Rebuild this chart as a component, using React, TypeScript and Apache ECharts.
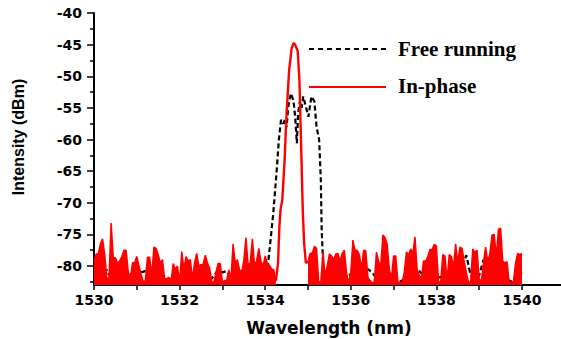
import React, { useEffect, useRef } from "react";
import * as echarts from "echarts";

// ---- data ----
const redLeftStart = 1530.0;
const redStep = 0.05;
const redLeft = [
  -79.3, -78.1, -78.1, -76.5, -75.7, -78.2, -81.9, -82, -73.2, -78.7,
  -78.7, -79.5, -79.2, -78.5, -77.5, -77.5, -80.9, -82, -79.5, -79.5,
  -78.5, -80, -81.3, -82.5, -82.3, -78.6, -78.6, -81.5, -77, -77.2,
  -78.2, -79.5, -79, -82, -82, -81.8, -82.5, -79.6, -80.5, -80,
  -82.7, -77.7, -80.5, -78.5, -79.2, -79, -82, -79.5, -78, -80,
  -79.8, -79.8, -78.3, -79.5, -80.3, -82.5, -82.6, -81, -79.6, -79.6,
  -82.5, -82.3, -82.3, -80.6, -82, -76.5, -79.5, -79, -80.6, -81,
  -79.2, -75.5, -79.8, -79.5, -75.7, -79.8, -79.2, -77.2, -79.2, -80,
  -78.4, -79.6, -79.9, -80.5, -80.6, -82.3,
];
const redPeakWl = [
  1534.25, 1534.3, 1534.33, 1534.36, 1534.4, 1534.45, 1534.5, 1534.56, 1534.62,
  1534.67, 1534.71, 1534.76, 1534.8, 1534.84, 1534.88, 1534.91, 1534.95, 1535.0,
];
const redPeakDb = [
  -82.3, -79.5, -74, -71, -69.5, -63.7, -55.8, -49, -45.5,
  -44.7, -45.2, -46, -50.6, -61.1, -71.6, -76.4, -79.5, -79.3,
];
const redRightStart = 1535.0;
const redRight = [
  -79.3, -78, -78, -76.9, -77.2, -82.5, -82.5, -77.8, -81.5, -80,
  -78.1, -78.4, -79, -78.1, -78, -79.3, -78, -77.5, -81, -82.7,
  -81, -75.9, -77.6, -77.5, -78.2, -80.5, -77.5, -77.6, -81.8, -82.3,
  -82.7, -82.5, -77.8, -79.3, -80, -75.1, -75.5, -76.6, -80.5, -82,
  -78.4, -78.4, -82.5, -82.7, -82.6, -81, -77.8, -78.2, -77.3, -78,
  -75.4, -80.5, -81.5, -82, -79.2, -79.2, -78.5, -77.4, -77.4, -76.6,
  -76.8, -82.5, -82.6, -78.2, -78.4, -82.4, -78.2, -78.5, -80.2, -76.5,
  -79.5, -77, -77.2, -79.3, -81, -82.6, -82.5, -77.3, -77.8, -77.5,
  -82, -82.5, -79.5, -77, -79.3, -78, -75.1, -75, -78.5, -74.2,
  -74, -79.2, -79.5, -79.3, -82.5, -82.6, -82.5, -79.5, -78, -78.2,
  -78,
];

const blackStep = 0.1;
const blackLeftStart = 1530.0;
const blackLeft = [
  -82, -81.5, -82, -80.6, -82, -81.5, -82, -81, -80.8, -81.5,
  -82, -81, -80.8, -81.5, -82.3, -82, -81.5, -82.5, -82, -81.7,
  -82.5, -81.2, -82, -81.5, -82.3, -81.8, -82, -82.5, -81.5, -80.7,
  -81, -80.8, -82, -80.6, -81.5, -81.8, -81, -82, -81.5, -80.5,
  -80.8,
];
const blackPeakWl = [
  1534.07, 1534.19, 1534.27, 1534.32, 1534.37, 1534.42, 1534.46, 1534.5, 1534.54,
  1534.6, 1534.66, 1534.7, 1534.74, 1534.77, 1534.81, 1534.85, 1534.89, 1534.95,
  1535.01, 1535.08, 1535.15, 1535.2, 1535.26, 1535.3, 1535.32, 1535.36,
];
const blackPeakDb = [
  -79.5, -71.6, -64.8, -60, -56.9, -57.5, -56.9, -58, -54.8,
  -52.7, -53.8, -56.4, -60.6, -55.8, -54, -55, -53.2, -54.8,
  -56.4, -53.2, -54, -58, -60, -66.4, -74.3, -80.6,
];
const blackRightStart = 1535.4;
const blackRight = [
  -80.6, -82, -81.5, -82.2, -81, -82, -81.2, -82, -81.5, -82.3,
  -80.5, -81, -82, -81.5, -82.5, -82, -81.5, -82.6, -82.3, -81.8,
  -82, -81.5, -80.8, -81.5, -82, -81.6, -82, -81.7, -82.2, -80.5,
  -81.5, -81, -80, -78.3, -81.5, -82, -81.5, -79, -81.5, -82,
  -80.8, -81.5, -82, -82.3, -82.6, -81.5, -81,
];

const xLabelValues = [1530, 1532, 1534, 1536, 1538, 1540];
const xTickValues = [1530, 1531, 1532, 1533, 1534, 1535, 1536, 1537, 1538, 1539, 1540];
const yMajorValues = [-80, -75, -70, -65, -60, -55, -50, -45, -40];
const yMinorValues = [-82.5, -77.5, -72.5, -67.5, -62.5, -57.5, -52.5, -47.5, -42.5];

const legendNames = ["Free running", "In-phase"];
const xTitle = "Wavelength (nm)";
const yTitle = "Intensity (dBm)";

function stepped(start: number, step: number, vals: number[]): number[][] {
  return vals.map((v, i) => [Number((start + i * step).toFixed(3)), v]);
}
function paired(xs: number[], ys: number[]): number[][] {
  return xs.map((x, i) => [x, ys[i]]);
}

export default function App() {
  const ref = useRef<HTMLDivElement>(null);
  useEffect(() => {
    if (!ref.current) return;
    const chart = echarts.init(ref.current, undefined, { renderer: "svg" });
    const black = [
      ...stepped(blackLeftStart, blackStep, blackLeft),
      ...paired(blackPeakWl, blackPeakDb),
      ...stepped(blackRightStart, blackStep, blackRight),
    ];
    const tickFont = {
      fontFamily: "DejaVu Sans",
      fontWeight: "bold" as const,
      fontSize: 14,
      color: "#000",
      formatter: (v: number) => String(v),
    };
    const option: any = {
      animation: false,
      backgroundColor: "#fff",
      grid: { left: 94, right: 0.5, top: 13, bottom: 54, containLabel: false },
      xAxis: {
        type: "value",
        min: 1530,
        max: 1540.9,
        axisLine: { show: true, onZero: false, lineStyle: { color: "#000", width: 2 } },
        axisTick: { show: true, length: 5, customValues: xTickValues, lineStyle: { color: "#000", width: 1.5 } },
        axisLabel: { ...tickFont, customValues: xLabelValues, margin: 8 },
        splitLine: { show: false },
      },
      yAxis: [
        {
          type: "value",
          min: -83,
          max: -40,
          position: "left",
          axisLine: { show: true, onZero: false, lineStyle: { color: "#000", width: 2 } },
          axisTick: { show: true, length: 7, customValues: yMajorValues, lineStyle: { color: "#000", width: 1.5 } },
          axisLabel: { ...tickFont, customValues: yMajorValues, margin: 12 },
          splitLine: { show: false },
        },
        {
          type: "value",
          min: -83,
          max: -40,
          position: "left",
          axisLine: { show: false },
          axisTick: { show: true, length: 4, customValues: yMinorValues, lineStyle: { color: "#000", width: 1.5 } },
          axisLabel: { show: false },
          splitLine: { show: false },
        },
      ],
      series: [
        {
          name: legendNames[0],
          type: "line",
          data: black,
          showSymbol: false,
          z: 1,
          lineStyle: { color: "#000", width: 2.2, type: [5, 3] },
        },
        {
          name: legendNames[1],
          type: "line",
          data: stepped(redLeftStart, redStep, redLeft),
          showSymbol: false,
          z: 2,
          lineStyle: { color: "#ff0000", width: 1.5 },
          areaStyle: { color: "#ff0000", opacity: 1, origin: "start" },
        },
        {
          name: legendNames[1] + " peak",
          type: "line",
          data: paired(redPeakWl, redPeakDb),
          showSymbol: false,
          z: 3,
          lineStyle: { color: "#ff0000", width: 2.4 },
        },
        {
          name: legendNames[1] + " right",
          type: "line",
          data: stepped(redRightStart, redStep, redRight),
          showSymbol: false,
          z: 2,
          lineStyle: { color: "#ff0000", width: 1.5 },
          areaStyle: { color: "#ff0000", opacity: 1, origin: "start" },
        },
      ],
      graphic: [
        {
          type: "line",
          shape: { x1: 309, y1: 49, x2: 386, y2: 49 },
          style: { stroke: "#000", lineWidth: 2, lineDash: [5, 4] },
        },
        {
          type: "text",
          x: 398,
          y: 49,
          style: {
            text: legendNames[0],
            fontFamily: "Liberation Serif",
            fontWeight: "bold",
            fontSize: 21,
            fill: "#000",
            align: "left",
            verticalAlign: "middle",
          },
        },
        {
          type: "line",
          shape: { x1: 309, y1: 87, x2: 386, y2: 87 },
          style: { stroke: "#ff0000", lineWidth: 2 },
        },
        {
          type: "text",
          x: 398,
          y: 86,
          style: {
            text: legendNames[1],
            fontFamily: "Liberation Serif",
            fontWeight: "bold",
            fontSize: 21,
            fill: "#000",
            align: "left",
            verticalAlign: "middle",
          },
        },
        {
          type: "text",
          x: 18,
          y: 137,
          rotation: Math.PI / 2,
          style: {
            text: yTitle,
            fontFamily: "Liberation Sans",
            fontWeight: "bold",
            fontSize: 16,
            fill: "#000",
            align: "center",
            verticalAlign: "middle",
          },
        },
        {
          type: "text",
          x: 329,
          y: 328,
          style: {
            text: xTitle,
            fontFamily: "DejaVu Sans",
            fontWeight: "bold",
            fontSize: 17,
            fill: "#000",
            align: "center",
            verticalAlign: "middle",
          },
        },
      ],
    };
    chart.setOption(option);
    return () => chart.dispose();
  }, []);
  return (
    <div
      ref={ref}
      style={{ position: "absolute", left: 0, top: 0, width: 561, height: 339 }}
    />
  );
}
